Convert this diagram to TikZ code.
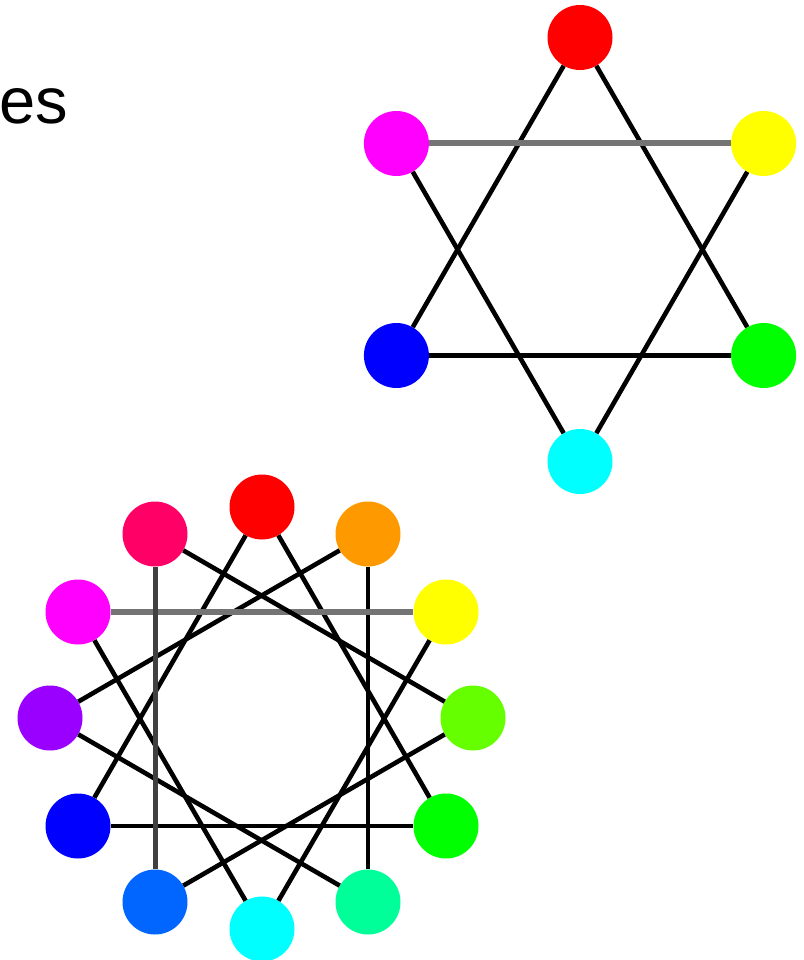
\documentclass[tikz,border=0pt]{standalone}
\usepackage{fontspec}
\setmainfont{Liberation Sans}

\definecolor{cRed}{HTML}{FF0000}
\definecolor{cOrange}{HTML}{FF9900}
\definecolor{cYellow}{HTML}{FFFF00}
\definecolor{cChart}{HTML}{66FF00}
\definecolor{cGreen}{HTML}{00FF00}
\definecolor{cSpring}{HTML}{00FF99}
\definecolor{cCyan}{HTML}{00FFFF}
\definecolor{cAzure}{HTML}{0066FF}
\definecolor{cBlue}{HTML}{0000FF}
\definecolor{cViolet}{HTML}{9900FF}
\definecolor{cMagenta}{HTML}{FF00FF}
\definecolor{cRose}{HTML}{FF0066}
\definecolor{cGrey}{HTML}{747474}

\tikzset{
  dot/.style={circle, minimum size=65pt, inner sep=0pt},
  chord/.style={line width=4.6pt, black},
  greychord/.style={line width=6pt, cGrey},
}

\begin{document}
\begin{tikzpicture}[x=1pt, y=-1pt]
    \useasboundingbox (0,0) rectangle (803,960);

    % Text on the left, cut off
    \node[anchor=base west, inner sep=0pt, font=\fontsize{65}{78}\selectfont] (word) at (-1,124) {es};

    % Six nodes of the hexagram
    \node[dot, fill=cRed] (hR) at (580,37.5) {};
    \node[dot, fill=cYellow] (hY) at (763.6,143.5) {};
    \node[dot, fill=cGreen] (hG) at (763.6,355.5) {};
    \node[dot, fill=cCyan] (hC) at (580,461.5) {};
    \node[dot, fill=cBlue] (hB) at (396.4,355.5) {};
    \node[dot, fill=cMagenta] (hM) at (396.4,143.5) {};

    % Twelve nodes of the star
    \node[dot, fill=cRed] (sR) at (262,507) {};
    \node[dot, fill=cOrange] (sO) at (368,534) {};
    \node[dot, fill=cYellow] (sY) at (446,612) {};
    \node[dot, fill=cChart] (sCh) at (473,718) {};
    \node[dot, fill=cGreen] (sG) at (446,826) {};
    \node[dot, fill=cSpring] (sS) at (368,902) {};
    \node[dot, fill=cCyan] (sC) at (262,929) {};
    \node[dot, fill=cAzure] (sA) at (155,902) {};
    \node[dot, fill=cBlue] (sB) at (78,826) {};
    \node[dot, fill=cViolet] (sV) at (50,718) {};
    \node[dot, fill=cMagenta] (sM) at (78,612) {};
    \node[dot, fill=cRose] (sRo) at (155,534) {};

    % Hexagram: two triangles
    \draw[chord] (hR) -- (hG);
    \draw[chord] (hR) -- (hB);
    \draw[chord] (hB) -- (hG);
    \draw[greychord] (hM) -- (hY);
    \draw[chord] (hM) -- (hC);
    \draw[chord] (hY) -- (hC);

    % Star: four triangles
    \draw[chord] (sR) -- (sG);
    \draw[chord] (sR) -- (sB);
    \draw[chord] (sB) -- (sG);
    \draw[chord] (sO) -- (sS);
    \draw[chord] (sO) -- (sV);
    \draw[chord] (sS) -- (sV);
    \draw[greychord] (sM) -- (sY);
    \draw[chord] (sM) -- (sC);
    \draw[chord] (sY) -- (sC);
    \draw[chord, line width=5pt, black!75] (sRo) -- (sA);
    \draw[chord] (sRo) -- (sCh);
    \draw[chord] (sA) -- (sCh);
\end{tikzpicture}
\end{document}
